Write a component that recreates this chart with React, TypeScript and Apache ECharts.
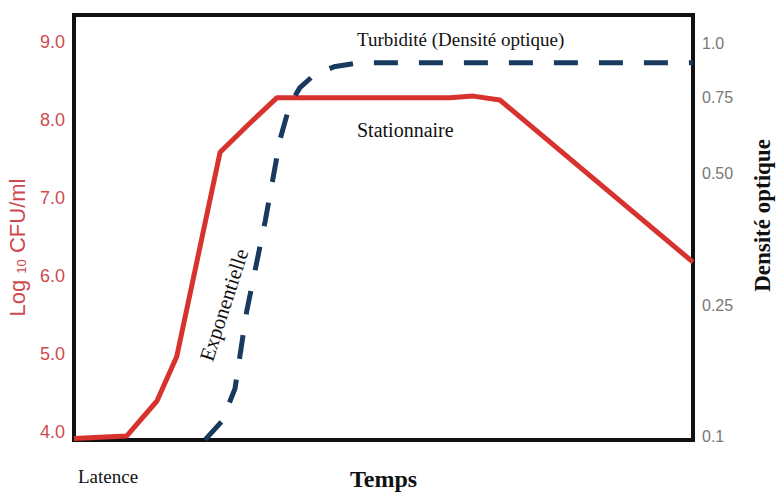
import React, { useEffect, useRef } from 'react';
import * as echarts from 'echarts';

// Time axis (arbitrary units, 0-100)
const timeRed = [0, 8.5, 13.4, 16.6, 23.6, 28.1, 32.8, 60.7, 64.5, 68.8, 100];
const cfuValues = [3.92, 3.95, 4.4, 4.97, 7.59, 7.94, 8.29, 8.29, 8.31, 8.26, 6.18];

const timeOD = [21.2, 23.9, 26.0, 27.9, 30.9, 33.3, 34.9, 36.5, 38.9, 42.2, 46.2, 100];
const odValues = [0.096, 0.117, 0.154, 0.243, 0.41, 0.613, 0.729, 0.796, 0.857, 0.893, 0.91, 0.91];

const cfuTicks = [4, 5, 6, 7, 8, 9];
const odTickValues = [0.1, 0.25, 0.5, 0.75, 1.0];
const odTickLabels = ['0.1', '0.25', '0.50', '0.75', '1.0'];
// where each OD tick sits on the shared vertical scale (log10 CFU units)
const odTickCfuPositions = [3.95, 5.63, 7.32, 8.29, 8.99];

const Y_MIN = 3.9;
const Y_MAX = 9.35;

function odToAxis(od: number): number {
  const v = odTickValues;
  const p = odTickCfuPositions;
  let i = 0;
  if (od <= v[0]) i = 0;
  else if (od >= v[v.length - 1]) i = v.length - 2;
  else {
    while (od > v[i + 1]) i++;
  }
  return p[i] + ((od - v[i]) * (p[i + 1] - p[i])) / (v[i + 1] - v[i]);
}

const RED = '#d8322f';
const RED_LABEL = '#cf4a4f';
const NAVY = '#173a5e';
const SERIF = '"Liberation Serif", "Times New Roman", serif';
const SANS = '"Liberation Sans", Arial, sans-serif';

export default function App() {
  const ref = useRef<HTMLDivElement>(null);

  useEffect(() => {
    if (!ref.current) return;
    const chart = echarts.init(ref.current, undefined, { renderer: 'svg' });
    const odPositions = odTickValues.map(odToAxis);
    chart.setOption({
      animation: false,
      backgroundColor: '#ffffff',
      grid: {
        left: 74,
        right: 83,
        top: 15,
        bottom: 52,
        containLabel: false,
        outerBoundsMode: 'none',
        show: true,
        borderColor: '#111111',
        borderWidth: 4,
        backgroundColor: 'transparent',
      },
      xAxis: {
        type: 'value',
        min: 0,
        max: 100,
        name: 'Temps',
        nameLocation: 'middle',
        nameGap: 27,
        nameTextStyle: { fontFamily: SERIF, fontSize: 24, fontWeight: 'bold', color: '#111' },
        axisLine: { show: false },
        axisTick: { show: false },
        axisLabel: { show: false },
        splitLine: { show: false },
      },
      yAxis: [
        {
          type: 'value',
          position: 'left',
          min: Y_MIN,
          max: Y_MAX,
          name: '{a|Log }{b|10}{a| CFU/ml}',
          nameLocation: 'middle',
          nameRotate: 90,
          nameGap: 46,
          nameTextStyle: {
            padding: [0, 40, 0, 0],
            rich: {
              a: { fontFamily: SANS, fontSize: 22, color: RED_LABEL },
              b: { fontFamily: SANS, fontSize: 13, color: RED_LABEL, padding: [9, 0, 0, 0] },
            },
          },
          axisLine: { show: false },
          axisTick: { show: false },
          splitLine: { show: false },
          axisLabel: {
            customValues: cfuTicks,
            formatter: (v: number) => v.toFixed(1),
            color: RED_LABEL,
            fontFamily: SANS,
            fontSize: 18,
            margin: 9,
          },
        },
        {
          type: 'value',
          position: 'right',
          min: Y_MIN,
          max: Y_MAX,
          name: 'Densité optique',
          nameLocation: 'middle',
          nameRotate: 90,
          nameGap: 58,
          nameTextStyle: {
            fontFamily: SERIF,
            fontSize: 23,
            fontWeight: 'bold',
            color: '#111',
            padding: [0, 0, 0, 24],
          },
          axisLine: { show: false },
          axisTick: { show: false },
          splitLine: { show: false },
          axisLabel: {
            customValues: odPositions,
            formatter: (v: number) => {
              let best = 0;
              for (let i = 1; i < odPositions.length; i++) {
                if (Math.abs(odPositions[i] - v) < Math.abs(odPositions[best] - v)) best = i;
              }
              return odTickLabels[best];
            },
            color: '#777777',
            fontFamily: SANS,
            fontSize: 16,
            margin: 9,
          },
        },
      ],
      series: [
        {
          name: 'CFU',
          type: 'line',
          yAxisIndex: 0,
          showSymbol: false,
          symbol: 'none',
          data: timeRed.map((t, i) => [t, cfuValues[i]]),
          lineStyle: { color: RED, width: 5, join: 'round' },
          z: 3,
        },
        {
          name: 'Turbidité',
          type: 'line',
          yAxisIndex: 1,
          showSymbol: false,
          symbol: 'none',
          data: timeOD.map((t, i) => [t, odToAxis(odValues[i])]),
          lineStyle: { color: NAVY, width: 5, type: [24, 21], cap: 'butt' },
          z: 4,
        },
      ],
      graphic: [
        {
          type: 'text',
          left: 357,
          top: 30,
          style: { text: 'Turbidité (Densité optique)', fontFamily: SERIF, fontSize: 19, fill: '#111' },
        },
        {
          type: 'text',
          left: 357,
          top: 120,
          style: { text: 'Stationnaire', fontFamily: SERIF, fontSize: 20, fill: '#111' },
        },
        {
          type: 'text',
          x: 224,
          y: 305,
          rotation: (72 * Math.PI) / 180,
          style: {
            text: 'Exponentielle',
            fontFamily: SERIF,
            fontSize: 21,
            fill: '#111',
            align: 'center',
            verticalAlign: 'middle',
          },
        },
        {
          type: 'text',
          left: 78,
          top: 467,
          style: { text: 'Latence', fontFamily: SERIF, fontSize: 19, fill: '#111' },
        },
      ],
    });
    return () => chart.dispose();
  }, []);

  return (
    <div
      ref={ref}
      style={{ position: 'fixed', left: 0, top: 0, width: 776, height: 492, background: '#fff' }}
    />
  );
}
